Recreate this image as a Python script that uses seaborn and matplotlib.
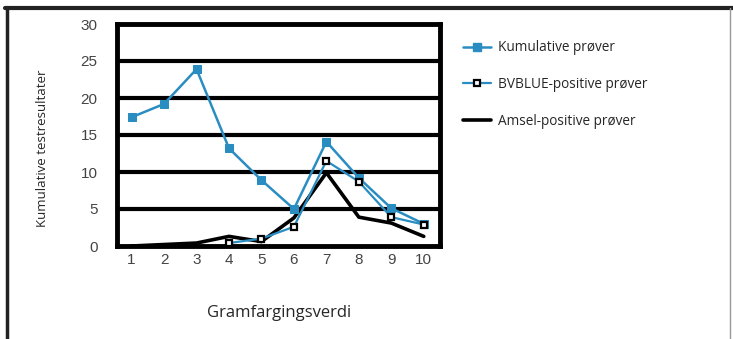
import matplotlib
matplotlib.use('Agg')
import matplotlib.pyplot as plt
from matplotlib import font_manager
from matplotlib.lines import Line2D
import seaborn as sns
import pandas as pd

# values
gram_score = [1, 2, 3, 4, 5, 6, 7, 8, 9, 10]
kumulative = [17.4, 19.2, 23.9, 13.2, 8.9, 5.0, 14.1, 9.2, 5.1, 3.0]
bvblue_x = [4, 5, 6, 7, 8, 9, 10]
bvblue = [0.4, 1.0, 2.6, 11.5, 8.7, 3.9, 2.9]
amsel = [0.0, 0.2, 0.4, 1.3, 0.6, 3.8, 9.9, 3.9, 3.1, 1.3]
y_ticks = [0, 5, 10, 15, 20, 25, 30]
labels = ['Kumulative prøver', 'BVBLUE-positive prøver', 'Amsel-positive prøver']

BLUE = '#2a8dc2'

sns.set_style('white')
installed = {f.name for f in font_manager.fontManager.ttflist}
tick_font = 'Liberation Sans Narrow' if 'Liberation Sans Narrow' in installed else 'Liberation Sans'
plt.rcParams['font.family'] = ['Open Sans', 'DejaVu Sans']

df_kum = pd.DataFrame({'x': gram_score, 'y': kumulative})
df_bv = pd.DataFrame({'x': bvblue_x, 'y': bvblue})
df_am = pd.DataFrame({'x': gram_score, 'y': amsel})

fig = plt.figure(figsize=(7.33, 3.39), dpi=100)
ax = fig.add_axes([117 / 733, 1 - 246 / 339, 323 / 733, 222 / 339])

# grid lines first so the data sits above them
for v in y_ticks[1:-1]:
    ax.axhline(v, color='black', lw=3, zorder=1)

sns.lineplot(data=df_am, x='x', y='y', ax=ax, color='black', lw=2.6, zorder=3)
sns.lineplot(data=df_kum, x='x', y='y', ax=ax, color=BLUE, lw=1.8,
             marker='s', markersize=6, markeredgecolor=BLUE, zorder=4)
sns.lineplot(data=df_bv, x='x', y='y', ax=ax, color=BLUE, lw=1.6,
             marker='s', markersize=5, markerfacecolor='white',
             markeredgecolor='black', markeredgewidth=1.6, zorder=5)

ax.set_xlim(0.55, 10.5)
ax.set_ylim(0, 30)
ax.set_xticks(gram_score)
ax.set_yticks(y_ticks)
ax.set_xticklabels([str(v) for v in gram_score], fontsize=11, color='#444444', family=tick_font)
ax.set_yticklabels([str(v) for v in y_ticks], fontsize=11, color='#444444', family=tick_font)
ax.tick_params(axis='both', length=0)
ax.tick_params(axis='y', pad=14)
ax.tick_params(axis='x', pad=5)
for side in ['left', 'right', 'top', 'bottom']:
    ax.spines[side].set_visible(True)
    ax.spines[side].set_color('black')
    ax.spines[side].set_linewidth(3.5)

ax.set_xlabel('')
ax.set_ylabel('')
fig.text(43 / 733, 1 - 148 / 339, 'Kumulative testresultater', rotation=90,
         ha='center', va='center', fontsize=9.5)
fig.text(279 / 733, 1 - 313 / 339, 'Gramfargingsverdi', ha='center', va='center', fontsize=12)

handles = [
    Line2D([], [], color=BLUE, lw=1.8, marker='s', markersize=6, markeredgecolor=BLUE),
    Line2D([], [], color=BLUE, lw=1.6, marker='s', markersize=5, markerfacecolor='white',
           markeredgecolor='black', markeredgewidth=1.6),
    Line2D([], [], color='black', lw=2.6),
]
fig.legend(handles, labels, loc='upper left', bbox_to_anchor=(458 / 733, 1 - 35 / 339),
           frameon=False, fontsize=9.8, labelspacing=1.6, handlelength=2.0,
           handletextpad=0.55, borderaxespad=0)

# outer frame of the original figure box
fig.add_artist(Line2D([5 / 733, 1], [1 - 8 / 339, 1 - 8 / 339], color='#222222', lw=3,
                      transform=fig.transFigure))
fig.add_artist(Line2D([7 / 733, 7 / 733], [0, 1 - 8 / 339], color='#222222', lw=2.5,
                      transform=fig.transFigure))
fig.add_artist(Line2D([730 / 733, 730 / 733], [0, 1 - 8 / 339], color='#999999', lw=1,
                      transform=fig.transFigure))

fig.savefig('out.png', dpi=100)
